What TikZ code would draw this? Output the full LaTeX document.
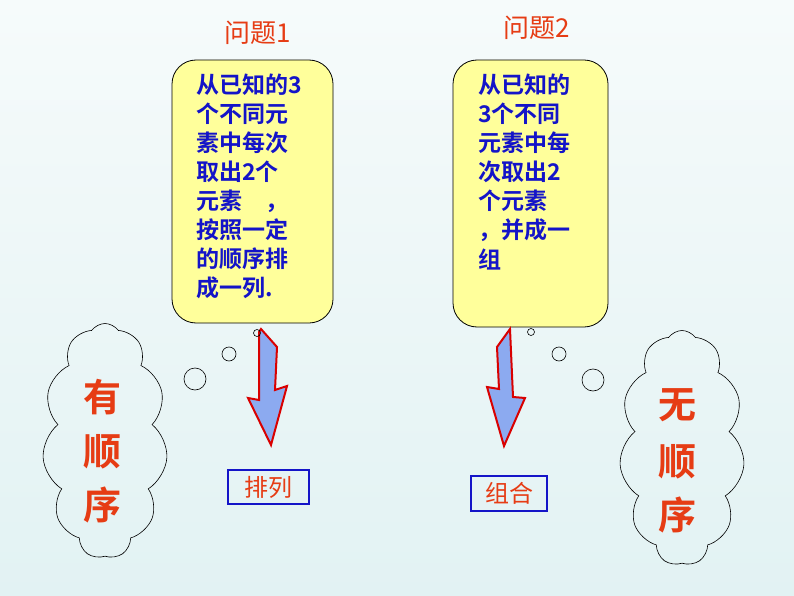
\documentclass[tikz,border=0pt]{standalone}
\usepackage{fontspec}
\newfontfamily\cjk{Noto Sans CJK SC}
\newfontfamily\cjkb{Noto Sans CJK SC Bold}
\usetikzlibrary{shapes.symbols}
\definecolor{bgtop}{RGB}{246,251,251}
\definecolor{bgbot}{RGB}{226,242,243}
\definecolor{ybox}{RGB}{255,255,155}
\definecolor{btext}{RGB}{20,20,200}
\definecolor{rtext}{RGB}{230,60,20}
\definecolor{afill}{RGB}{140,170,240}
\tikzset{
 qbox/.style={draw=black,fill=ybox,rounded corners=24pt,line width=0.8pt},
 qline/.style={anchor=west,text=btext,font=\cjkb\fontsize{23}{23}\selectfont,inner sep=0pt},
 title/.style={text=rtext,font=\cjk\fontsize{26}{26}\selectfont},
 bigarrow/.style={draw=red!85!black,fill=afill,line width=2pt,line join=miter},
 bubble/.style={draw=black,line width=0.6pt},
 cloudy/.style={cloud,cloud puffs=11,cloud puff arc=110,aspect=0.5,draw=black,line width=0.6pt,minimum width=125pt,minimum height=235pt},
 ctext/.style={text=rtext,font=\cjkb\fontsize{38}{38}\selectfont},
 lbox/.style={draw=btext,line width=1.5pt,text=rtext,font=\cjk\fontsize{24}{24}\selectfont,inner sep=0pt},
}
\begin{document}
\begin{tikzpicture}[x=1pt,y=-1pt]
\shade[top color=bgtop,bottom color=bgbot] (0,0) rectangle (794,596);
\useasboundingbox (0,0) rectangle (794,596);
\node[title] (t1) at (258,33) {问题1};
\node[title] (t2) at (537,28) {问题2};
\draw[qbox] (172,60) rectangle (333,323);
\draw[qbox] (453,60) rectangle (608,327);
\foreach \t [count=\i from 0] in {从已知的3,个不同元,素中每次,取出2个,元素\quad ，,按照一定,的顺序排,成一列.}
 \node[qline] (a\i) at (196,{85+29*\i}) {\t};
\foreach \t [count=\i from 0] in {从已知的,3个不同,元素中每,次取出2,个元素,，并成一,组}
 \node[qline] (b\i) at (478,{85+29*\i}) {\t};
\draw[bigarrow] (261,329)--(277,347)--(275,390)--(287,386)--(271,445)--(248,398)--(259,400)--(259,332)--cycle;
\draw[bigarrow] (510,329)--(513,397)--(525,398)--(504,446)--(487,387)--(499,389)--(497,347)--cycle;
\draw[bubble] (257,333) circle (3.5) (229,354) circle (7) (195,379) circle (11);
\draw[bubble] (531,332) circle (3.5) (559,354) circle (7) (593,380) circle (11);
\node[cloudy] (c1) at (105,441) {};
\node[cloudy] (c2) at (682,448) {};
\node[ctext] (y1) at (102,397) {有};
\node[ctext] (y2) at (102,452) {顺};
\node[ctext] (y3) at (102,505) {序};
\node[ctext] (w1) at (677,405) {无};
\node[ctext] (w2) at (677,462) {顺};
\node[ctext] (w3) at (677,515) {序};
\node[lbox,minimum width=81pt,minimum height=34pt] (p) at (268.5,487) {排列};
\node[lbox,minimum width=76pt,minimum height=35pt] (z) at (509,493.5) {组合};
\end{tikzpicture}
\end{document}
